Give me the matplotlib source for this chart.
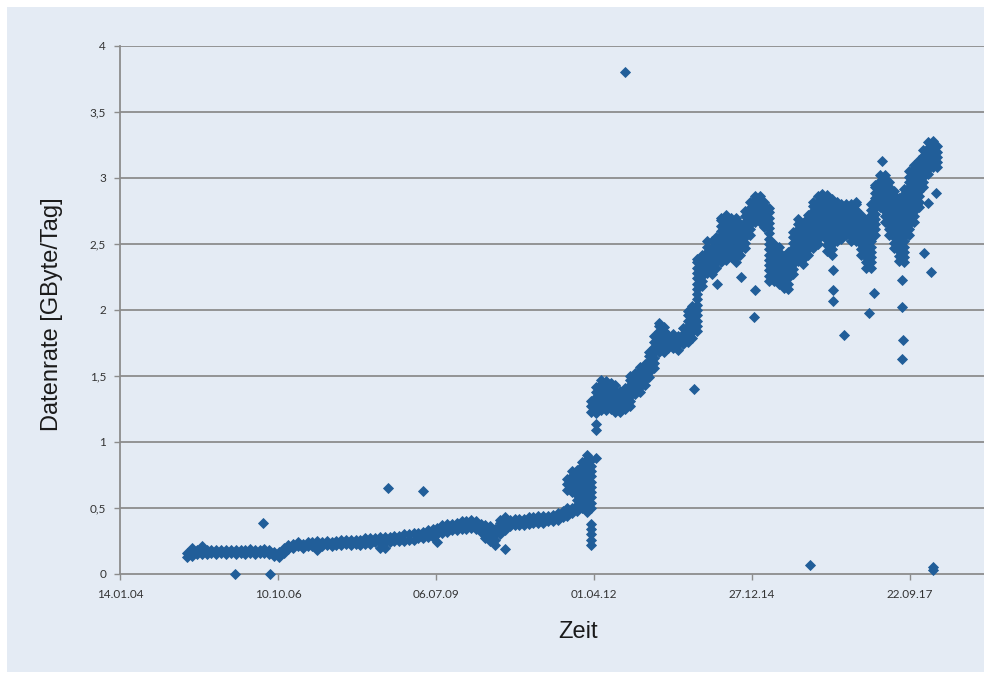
import matplotlib
matplotlib.use("Agg")
import matplotlib.pyplot as plt
import matplotlib.dates as mdates
from matplotlib.patches import Rectangle
from datetime import datetime, date

# Daily data rate, grouped per month (values in GByte/Tag), first month March 2005
rates_2005 = [[0.13, 0.16], [0.14, 0.17, 0.2], [0.15, 0.18], [0.15, 0.18, 0.21], [0.15, 0.18],
              [0.16, 0.18], [0.15, 0.18], [0.16, 0.18], [0.15, 0.18], [0.16, 0.18]]
rates_2006 = [[0.15, 0.18], [0.16, 0.18], [0.15, 0.18], [0.16, 0.19], [0.15, 0.18], [0.16, 0.18],
              [0.16, 0.19], [0.15, 0.18], [0.14, 0.17], [0.13, 0.17], [0.16, 0.2], [0.19, 0.22]]
rates_2007 = [[0.2, 0.23], [0.21, 0.24], [0.2, 0.23], [0.21, 0.24], [0.21, 0.24], [0.18, 0.22, 0.25],
              [0.21, 0.24], [0.22, 0.25], [0.21, 0.24], [0.22, 0.25], [0.22, 0.26], [0.23, 0.26]]
rates_2008 = [[0.22, 0.26], [0.23, 0.26], [0.22, 0.26], [0.23, 0.27], [0.23, 0.27], [0.24, 0.27],
              [0.2, 0.24, 0.28], [0.2, 0.24, 0.28], [0.24, 0.28], [0.25, 0.29], [0.25, 0.29], [0.25, 0.3]]
rates_2009 = [[0.26, 0.3], [0.26, 0.31], [0.27, 0.31], [0.27, 0.32], [0.28, 0.33], [0.28, 0.31, 0.34],
              [0.24, 0.3, 0.35], [0.31, 0.34, 0.37], [0.32, 0.35, 0.38], [0.33, 0.36, 0.38],
              [0.33, 0.36, 0.39], [0.34, 0.37, 0.4]]
rates_2010 = [[0.34, 0.37, 0.4], [0.35, 0.38, 0.41], [0.34, 0.37, 0.4], [0.32, 0.35, 0.38],
              [0.27, 0.3, 0.33, 0.37], [0.25, 0.28, 0.31, 0.34, 0.36], [0.22, 0.26, 0.3, 0.34],
              [0.3, 0.33, 0.36, 0.39, 0.41], [0.19, 0.33, 0.36, 0.4, 0.43], [0.36, 0.39, 0.41],
              [0.37, 0.4, 0.42], [0.37, 0.4, 0.42]]
rates_2011 = [[0.37, 0.4, 0.42], [0.38, 0.41, 0.43], [0.39, 0.41, 0.43], [0.39, 0.42, 0.44],
              [0.39, 0.42, 0.44], [0.4, 0.42, 0.44], [0.4, 0.43, 0.45], [0.41, 0.44, 0.46],
              [0.43, 0.46, 0.48], [0.44, 0.47, 0.5, 0.64, 0.68, 0.72],
              [0.46, 0.5, 0.62, 0.66, 0.7, 0.74, 0.78],
              [0.48, 0.52, 0.56, 0.6, 0.64, 0.68, 0.72, 0.76, 0.79]]
rates_2012 = [[0.5, 0.54, 0.58, 0.62, 0.66, 0.7, 0.74, 0.78, 0.82, 0.85],
              [0.47, 0.51, 0.55, 0.59, 0.63, 0.67, 0.71, 0.75, 0.79, 0.83, 0.87, 0.9],
              [0.22, 0.26, 0.3, 0.34, 0.38, 0.5, 0.54, 0.58, 0.62, 0.66, 0.7, 0.74, 0.78, 0.82, 0.86,
               1.23, 1.27, 1.31],
              [0.88, 1.09, 1.14, 1.22, 1.26, 1.3, 1.34, 1.38, 1.42],
              [1.24, 1.28, 1.32, 1.36, 1.4, 1.44, 1.47], [1.24, 1.28, 1.32, 1.36, 1.4, 1.44, 1.46],
              [1.25, 1.29, 1.33, 1.37, 1.41, 1.45], [1.23, 1.27, 1.31, 1.35, 1.39, 1.43],
              [1.23, 1.27, 1.31, 1.35, 1.39], [1.25, 1.29, 1.33, 1.37, 1.41],
              [1.27, 1.31, 1.35, 1.39, 1.43, 1.47, 1.5], [1.36, 1.4, 1.44, 1.48, 1.52]]
rates_2013 = [[1.38, 1.42, 1.46, 1.5, 1.54, 1.57], [1.43, 1.47, 1.51, 1.55, 1.59],
              [1.49, 1.53, 1.57, 1.61, 1.65, 1.68], [1.56, 1.6, 1.64, 1.68, 1.72, 1.76, 1.8],
              [1.68, 1.72, 1.76, 1.8, 1.84, 1.88, 1.9], [1.68, 1.72, 1.76, 1.8, 1.84, 1.87],
              [1.71, 1.75, 1.79, 1.81], [1.71, 1.75, 1.79, 1.82], [1.7, 1.74, 1.78, 1.8],
              [1.74, 1.78, 1.82, 1.86], [1.76, 1.8, 1.84, 1.88, 1.92, 1.96, 1.99],
              [1.79, 1.83, 1.87, 1.91, 1.95, 1.99, 2.03]]
rates_2014 = [[1.84, 1.88, 1.92, 1.96, 2.0, 2.04, 2.08, 2.12, 2.16, 2.2, 2.24, 2.28, 2.32, 2.36, 2.39],
              [2.18, 2.22, 2.26, 2.3, 2.34, 2.38, 2.42], [2.28, 2.32, 2.36, 2.4, 2.44, 2.48, 2.52],
              [2.27, 2.31, 2.35, 2.39, 2.43, 2.47, 2.52], [2.32, 2.36, 2.4, 2.44, 2.48, 2.52, 2.55],
              [2.36, 2.4, 2.44, 2.48, 2.52, 2.56, 2.6, 2.64, 2.68, 2.7],
              [2.38, 2.42, 2.46, 2.5, 2.54, 2.58, 2.62, 2.66, 2.7, 2.72],
              [2.4, 2.44, 2.48, 2.52, 2.56, 2.6, 2.64, 2.68, 2.7],
              [2.36, 2.4, 2.44, 2.48, 2.52, 2.56, 2.6, 2.64, 2.68, 2.7],
              [2.42, 2.46, 2.5, 2.54, 2.58, 2.62, 2.65],
              [2.47, 2.51, 2.55, 2.59, 2.63, 2.67, 2.71, 2.75],
              [2.57, 2.61, 2.65, 2.69, 2.73, 2.77, 2.82]]
rates_2015 = [[2.67, 2.71, 2.75, 2.79, 2.83, 2.86], [2.67, 2.71, 2.75, 2.79, 2.83, 2.86],
              [2.63, 2.67, 2.71, 2.75, 2.79, 2.82],
              [2.22, 2.26, 2.3, 2.34, 2.38, 2.42, 2.46, 2.5, 2.54, 2.58, 2.62, 2.66, 2.7, 2.74, 2.77],
              [2.22, 2.26, 2.3, 2.34, 2.38, 2.42, 2.46, 2.5],
              [2.2, 2.24, 2.28, 2.32, 2.36, 2.4, 2.44, 2.48],
              [2.17, 2.21, 2.25, 2.29, 2.33, 2.37, 2.41],
              [2.16, 2.2, 2.24, 2.28, 2.32, 2.36, 2.4, 2.44],
              [2.27, 2.31, 2.35, 2.39, 2.43, 2.47, 2.51, 2.55, 2.59],
              [2.37, 2.41, 2.45, 2.49, 2.53, 2.57, 2.61, 2.65, 2.69],
              [2.35, 2.39, 2.43, 2.47, 2.51, 2.55, 2.59, 2.63, 2.66],
              [2.42, 2.46, 2.5, 2.54, 2.58, 2.62, 2.66, 2.7, 2.72]]
rates_2016 = [[2.47, 2.51, 2.55, 2.59, 2.63, 2.67, 2.71, 2.75, 2.79, 2.82],
              [2.5, 2.54, 2.58, 2.62, 2.66, 2.7, 2.74, 2.78, 2.82, 2.86],
              [2.57, 2.61, 2.65, 2.69, 2.73, 2.77, 2.81, 2.85, 2.88],
              [2.45, 2.49, 2.53, 2.57, 2.61, 2.65, 2.69, 2.73, 2.77, 2.81, 2.85, 2.87],
              [2.42, 2.46, 2.5, 2.54, 2.58, 2.62, 2.66, 2.7, 2.74, 2.78, 2.82, 2.84],
              [2.52, 2.56, 2.6, 2.64, 2.68, 2.72, 2.76, 2.8, 2.82],
              [2.54, 2.58, 2.62, 2.66, 2.7, 2.74, 2.78, 2.8],
              [2.57, 2.61, 2.65, 2.69, 2.73, 2.77, 2.8],
              [2.52, 2.56, 2.6, 2.64, 2.68, 2.72, 2.76, 2.8],
              [2.52, 2.56, 2.6, 2.64, 2.68, 2.72, 2.76, 2.8, 2.82],
              [2.42, 2.46, 2.5, 2.54, 2.58, 2.62, 2.66, 2.7, 2.72],
              [2.32, 2.36, 2.4, 2.44, 2.48, 2.52, 2.56, 2.6, 2.64, 2.68]]
rates_2017 = [[2.32, 2.36, 2.4, 2.44, 2.48, 2.52, 2.56, 2.6, 2.64, 2.68, 2.72, 2.76, 2.8],
              [2.57, 2.61, 2.65, 2.69, 2.73, 2.77, 2.81, 2.85, 2.89, 2.93, 2.95],
              [2.78, 2.82, 2.86, 2.9, 2.94, 2.98, 3.02],
              [2.67, 2.71, 2.75, 2.79, 2.83, 2.87, 2.91, 2.95, 2.99, 3.02],
              [2.57, 2.61, 2.65, 2.69, 2.73, 2.77, 2.81, 2.85, 2.89, 2.93, 2.97],
              [2.47, 2.51, 2.55, 2.59, 2.63, 2.67, 2.71, 2.75, 2.79, 2.83, 2.87, 2.9],
              [2.37, 2.41, 2.45, 2.49, 2.53, 2.57, 2.61, 2.65, 2.69, 2.73, 2.77, 2.81, 2.85],
              [2.36, 2.4, 2.44, 2.48, 2.52, 2.56, 2.6, 2.64, 2.68, 2.72, 2.76, 2.8, 2.84, 2.88, 2.92],
              [2.57, 2.61, 2.65, 2.69, 2.73, 2.77, 2.81, 2.85, 2.89, 2.93, 2.97, 3.01, 3.05],
              [2.67, 2.71, 2.75, 2.79, 2.83, 2.87, 2.91, 2.95, 2.99, 3.03, 3.07, 3.1],
              [2.78, 2.82, 2.86, 2.9, 2.94, 2.98, 3.02, 3.06, 3.1, 3.14],
              [2.93, 2.97, 3.01, 3.05, 3.09, 3.13, 3.17, 3.21]]
rates_2018 = [[3.03, 3.07, 3.11, 3.15, 3.19, 3.23, 3.27], [3.08, 3.12, 3.16, 3.2, 3.24, 3.28],
              [3.08, 3.12, 3.16, 3.2, 3.24]]

yearly_rates = [(2005, 3, rates_2005), (2006, 1, rates_2006), (2007, 1, rates_2007), (2008, 1, rates_2008),
                (2009, 1, rates_2009), (2010, 1, rates_2010), (2011, 1, rates_2011), (2012, 1, rates_2012),
                (2013, 1, rates_2013), (2014, 1, rates_2014), (2015, 1, rates_2015), (2016, 1, rates_2016),
                (2017, 1, rates_2017), (2018, 1, rates_2018)]

# Isolated single-day values
outlier_dates = ["2006-01-12", "2006-07-05", "2006-08-18", "2008-09-06", "2009-04-13", "2012-10-14",
                 "2013-12-24", "2014-05-20", "2014-10-19", "2015-01-08", "2015-01-15", "2015-12-28",
                 "2016-05-22", "2016-05-22", "2016-05-24", "2016-07-31", "2017-01-04", "2017-02-06",
                 "2017-03-28", "2017-08-04", "2017-08-04", "2017-08-06", "2017-08-04", "2017-12-19",
                 "2018-01-16", "2018-01-30", "2018-03-08", "2018-02-14", "2018-02-16"]
outlier_rates = [0.0, 0.39, 0.0, 0.65, 0.63, 3.8,
                 1.4, 2.2, 2.25, 1.95, 2.15, 0.07,
                 2.3, 2.15, 2.07, 1.81, 1.98, 2.13,
                 3.13, 2.23, 2.02, 1.77, 1.63, 2.43,
                 2.81, 2.29, 2.89, 0.03, 0.05]

x_tick_labels = ["14.01.04", "10.10.06", "06.07.09", "01.04.12", "27.12.14", "22.09.17"]
y_ticks = [0, 0.5, 1, 1.5, 2, 2.5, 3, 3.5, 4]

# ---- collect points ----
xs, ys = [], []
for year, first_month, months in yearly_rates:
    for i, vals in enumerate(months):
        d = date(year, first_month + i, 15)
        for v in vals:
            xs.append(d)
            ys.append(v)
for ds, v in zip(outlier_dates, outlier_rates):
    xs.append(datetime.strptime(ds, "%Y-%m-%d").date())
    ys.append(v)

tick_dates = [datetime.strptime(t, "%d.%m.%y").date() for t in x_tick_labels]

# ---- figure ----
W, H = 984, 675
fig = plt.figure(figsize=(W / 100, H / 100), dpi=100, facecolor="white")
panel_color = "#e4ebf4"
fig.patches.append(Rectangle((7 / W, 3 / H), 1 - 7 / W, (672 - 7) / H,
                             transform=fig.transFigure, facecolor=panel_color,
                             edgecolor="none", zorder=-5))

ax_left, ax_right, ax_top, ax_bottom = 120, 984, 46, 574
ax = fig.add_axes([ax_left / W, (H - ax_bottom) / H, (ax_right - ax_left) / W, (ax_bottom - ax_top) / H])
ax.set_zorder(2)
ax.patch.set_visible(False)

grid_color = "#8c8c8c"
for v in y_ticks[1:]:
    ax.axhline(v, color=grid_color, lw=1.3, zorder=1)

ax.plot(xs, ys, linestyle="none", marker="D", ms=5.6, color="#215e99", mec="#215e99",
        mew=0.6, zorder=3, clip_on=False)

x0 = mdates.date2num(tick_dates[0])
px_per_day = 0.158
ax.set_xlim(x0, x0 + (ax_right - ax_left) / px_per_day)
ax.set_ylim(0, 4)

ax.set_xticks([mdates.date2num(d) for d in tick_dates])
ax.set_xticklabels(x_tick_labels)
ax.set_yticks(y_ticks)
ax.set_yticklabels([("%g" % v).replace(".", ",") for v in y_ticks])

for side in ("top", "right"):
    ax.spines[side].set_visible(False)
for side in ("left", "bottom"):
    ax.spines[side].set_color(grid_color)
    ax.spines[side].set_linewidth(1.3)

ax.tick_params(axis="both", colors=grid_color, length=4, width=1, labelcolor="#333333")
ax.tick_params(axis="x", pad=7)
ax.tick_params(axis="y", pad=6)
for lab in ax.get_xticklabels() + ax.get_yticklabels():
    lab.set_fontfamily(["Lato", "DejaVu Sans"])
    lab.set_fontsize(8.5)

label_font = dict(family=["Liberation Sans", "DejaVu Sans"], size=17, color="#1a1a1a")
fig.text(52 / W, 1 - 314 / H, "Datenrate [GByte/Tag]", rotation=90, ha="center", va="center", **label_font)
fig.text(578 / W, 1 - 632 / H, "Zeit", ha="center", va="center", **label_font)

fig.savefig("out.png", dpi=100, facecolor="white")
